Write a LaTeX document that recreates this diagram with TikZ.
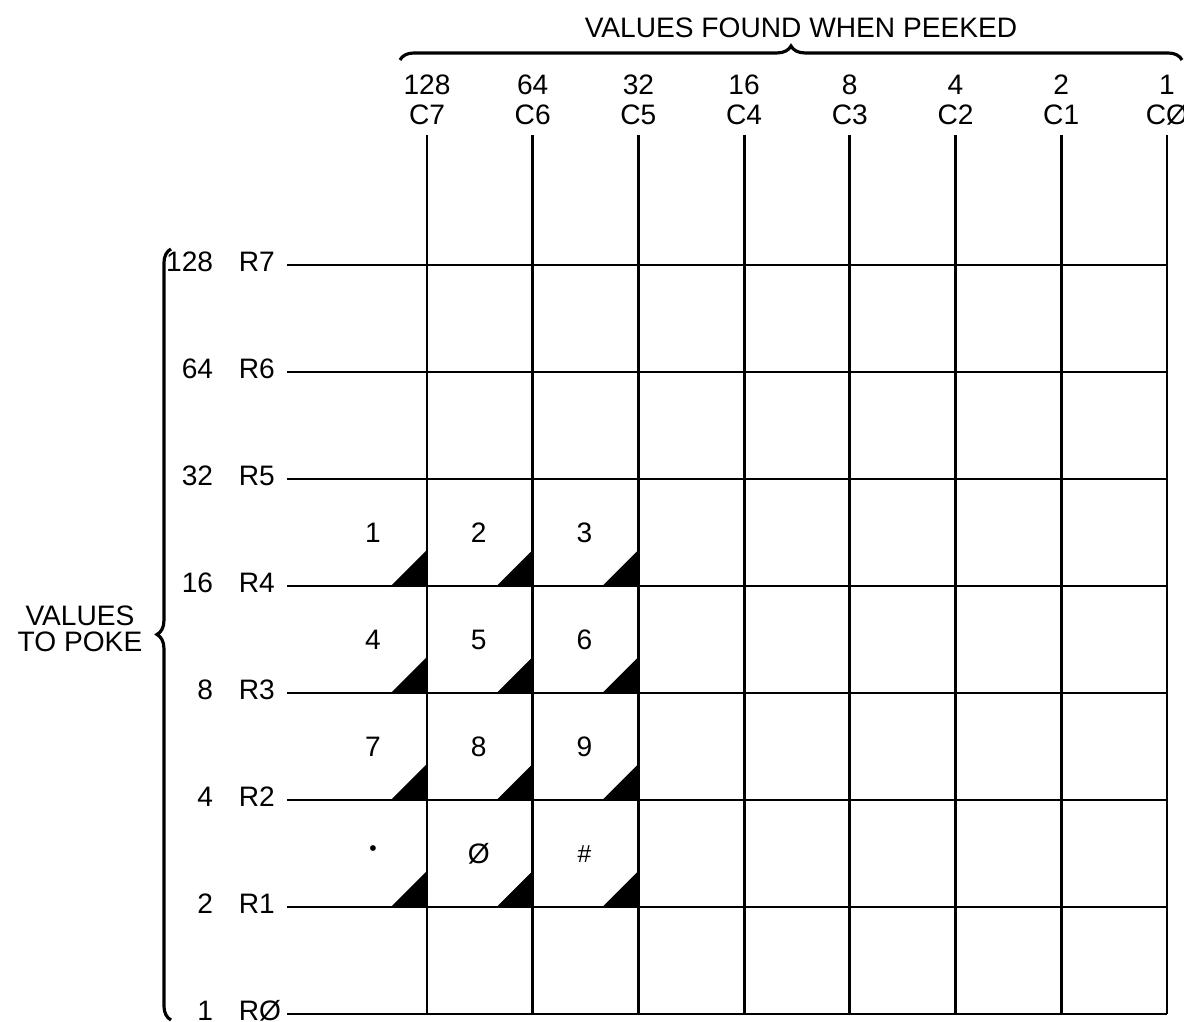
\documentclass[tikz,border=0pt]{standalone}
\usepackage{fontspec}
\setmainfont{Liberation Sans}
\usetikzlibrary{calc,decorations.pathreplacing}

\newcommand{\keydot}{\raisebox{2pt}{\fontsize{6}{6}\selectfont\textbullet}}
\newcommand{\keyhash}{{\fontsize{7}{7}\selectfont\#}}

\begin{document}
\begin{tikzpicture}[x=0.01cm, y=-0.01cm, line width=0.8pt,
  lbl/.style={font=\fontsize{8}{8}\selectfont, inner sep=1pt},
  bracepath/.style={decorate, decoration={brace, amplitude=4pt}, line width=0.9pt}]
  \useasboundingbox (0,0) rectangle (1184,1022);

  % Columns (values found when peeked)
  \foreach \c/\v [count=\k from 0] in {7/128,6/64,5/32,4/16,3/8,2/4,1/2,Ø/1} {
    \coordinate (ctop\k) at ({427+105.7*\k},135);
    \coordinate (cbot\k) at ({427+105.7*\k},1014);
    \node[lbl] (cv\k) at ({427+105.7*\k},85) {\v};
    \node[lbl] (cl\k) at ({427+105.7*\k},115) {C\c};
    \draw (ctop\k) -- (cbot\k);
  }

  % Rows (values to poke)
  \foreach \r/\v [count=\k from 0] in {7/128,6/64,5/32,4/16,3/8,2/4,1/2,Ø/1} {
    \coordinate (rleft\k) at (287,{265+107*\k});
    \coordinate (rright\k) at (1167,{265+107*\k});
    \node[lbl, anchor=east] (rv\k) at (218,{262+107*\k}) {\v};
    \node[lbl, anchor=west] (rl\k) at (234,{262+107*\k}) {R\r};
    \draw (rleft\k) -- (rright\k);
  }

  % Keypad marks
  \foreach \keys [count=\j from 3] in {{1,2,3},{4,5,6},{7,8,9},{\keydot,Ø,\keyhash}} {
    \foreach \t [count=\i from 0] in \keys {
      \fill (ctop\i |- rleft\j) -- ++(-36,0) -- ++(36,-36) -- cycle;
      \node[lbl] (key\j\i) at ($(ctop\i |- rleft\j) + (-54,-53)$) {\t};
    }
  }

  % Braces and titles
  \draw[bracepath] (400,60) -- (1182,60);
  \node[lbl] (peek) at (801,28) {VALUES FOUND WHEN PEEKED};
  \draw[bracepath] (171,1020) -- (171,249);
  \node[lbl, align=center] (poke) at (80,629) {VALUES\\[-0.5pt]TO POKE};
\end{tikzpicture}
\end{document}
